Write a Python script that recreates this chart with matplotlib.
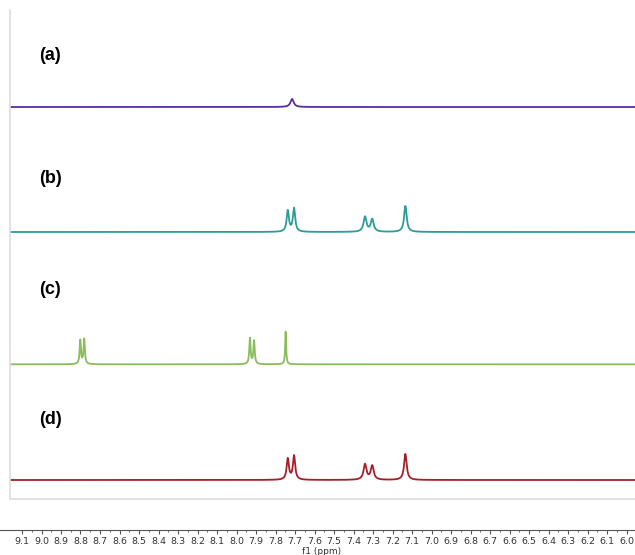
import numpy as np
import matplotlib.pyplot as plt
from matplotlib.ticker import FixedLocator

# peak lists: position (ppm), height (px), half width (ppm)
a_ppm = [7.715]
a_height = [8]
a_hw = [0.010]

b_ppm = [7.737, 7.705, 7.341, 7.304, 7.134]
b_height = [21, 23.5, 15, 12.5, 26]
b_hw = [0.007, 0.007, 0.009, 0.009, 0.008]

c_ppm = [8.801, 8.781, 7.931, 7.910, 7.748]
c_height = [24, 25, 26, 23.5, 33]
c_hw = [0.004, 0.004, 0.004, 0.004, 0.003]

d_ppm = [7.737, 7.705, 7.341, 7.304, 7.134]
d_height = [21, 24, 15.5, 14, 26]
d_hw = [0.007, 0.007, 0.009, 0.009, 0.008]

tick_ppm = [round(9.1 - 0.1 * i, 1) for i in range(32)]

labels = ['(a)', '(b)', '(c)', '(d)']
colors = ['#5b2d9e', '#2b9d98', '#8bbd5b', '#a3202b']

# layout (pixels in a 635x555 figure)
W, H = 635, 555
baselines = [392, 267, 134.7, 19]
label_y = [56, 178, 290, 420]


def px_to_ppm(x):
    return 9.1 - (x - 22) / 195.0


def spectrum(x, pos, hgt, hw):
    y = np.zeros_like(x)
    for p, h, w in zip(pos, hgt, hw):
        y += h * w**2 / ((x - p)**2 + w**2)
    return y


fig = plt.figure(figsize=(W / 100, H / 100), dpi=100)

ax = fig.add_axes([10 / W, (H - 499) / H, (W - 10) / W, (499 - 10) / H])
ax.set_xlim(px_to_ppm(10), px_to_ppm(W))
ax.set_ylim(0, 489)
for s in ['top', 'right']:
    ax.spines[s].set_visible(False)
for s in ['left', 'bottom']:
    ax.spines[s].set_color('#dddddd')
    ax.spines[s].set_linewidth(1.2)
ax.set_xticks([])
ax.set_yticks([])

x = np.linspace(px_to_ppm(10), px_to_ppm(W), 4000)
peaks = [(a_ppm, a_height, a_hw), (b_ppm, b_height, b_hw),
         (c_ppm, c_height, c_hw), (d_ppm, d_height, d_hw)]
for (pos, hgt, hw), base, col in zip(peaks, baselines, colors):
    ax.plot(x, base + spectrum(x, pos, hgt, hw), color=col, lw=1.3)

for lab, ly in zip(labels, label_y):
    fig.text(39 / W, 1 - ly / H, lab, fontsize=13, fontweight='bold',
             family='Liberation Sans', va='center', ha='left')

# ppm axis
ax2 = fig.add_axes([0, 1 - 529.5 / H, 1, 0.0001])
ax2.set_xlim(px_to_ppm(0), px_to_ppm(W))
ax2.set_yticks([])
for s in ['top', 'right', 'left']:
    ax2.spines[s].set_visible(False)
ax2.spines['bottom'].set_color('#555555')
ax2.spines['bottom'].set_linewidth(0.8)
ax2.xaxis.set_major_locator(FixedLocator(tick_ppm))
ax2.xaxis.set_minor_locator(FixedLocator([t - 0.05 for t in tick_ppm]))
ax2.set_xticklabels([f'{t:.1f}' for t in tick_ppm])
ax2.tick_params(axis='x', which='major', length=3, width=0.8, color='#555555',
                labelsize=6.8, pad=2.5, labelcolor='#333333')
ax2.tick_params(axis='x', which='minor', length=1.5, width=0.6, color='#555555')
fig.text(322 / W, 1 - 551 / H, 'f1 (ppm)', fontsize=6.5, color='#333333',
         ha='center', va='center')

fig.savefig('out.png', dpi=100)
